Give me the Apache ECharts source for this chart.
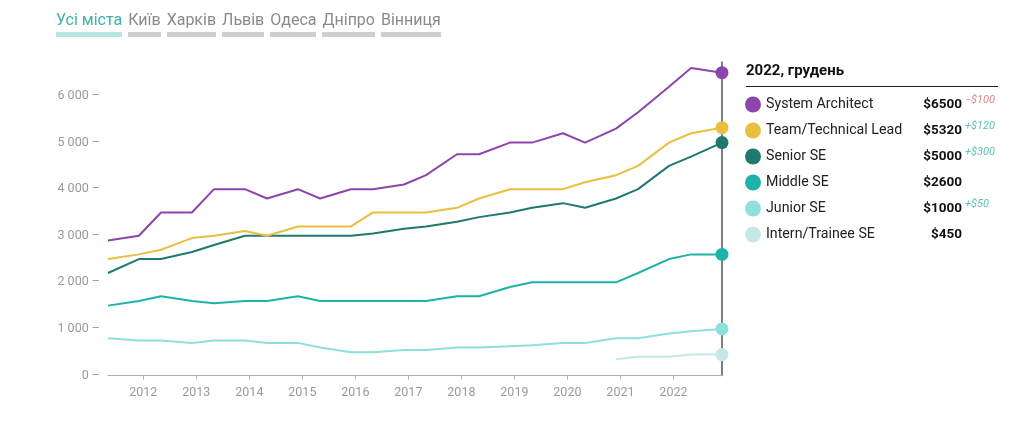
<!DOCTYPE html>
<html>
<head>
<meta charset="utf-8">
<script src="https://cdn.jsdelivr.net/npm/echarts@6/dist/echarts.min.js"></script>
<style>
  html, body { margin: 0; padding: 0; background: #fff; }
  #wrap { position: relative; width: 1024px; height: 435px; }
  #chart { position: absolute; left: 0; top: 0; width: 1024px; height: 435px; }
  #tabs { position: absolute; left: 56px; top: 10px; font-family: Roboto, sans-serif; font-size: 16px; z-index: 2; white-space: nowrap; }
  #tabs span { display: inline-block; color: #8a8a8a; border-bottom: 5px solid #cfcfcf; line-height: 20px; padding-bottom: 2px; margin-right: 6px; }
  #tabs span.active { color: #3cb3aa; border-bottom-color: #b5e6e2; }
</style>
</head>
<body>
<div id="wrap">
  <div id="chart"></div>
  <div id="tabs"></div>
</div>
<script>
// ---- data ----
var cityTabs = ['Усі міста', 'Київ', 'Харків', 'Львів', 'Одеса', 'Дніпро', 'Вінниця'];
var periods = ['2011-05','2011-12','2012-05','2012-12','2013-05','2013-12','2014-05','2014-12',
               '2015-05','2015-12','2016-05','2016-12','2017-05','2017-12','2018-05','2018-12',
               '2019-05','2019-12','2020-05','2020-12','2021-05','2021-12','2022-05','2022-12'];
var tickYears = [2012, 2013, 2014, 2015, 2016, 2017, 2018, 2019, 2020, 2021, 2022];
var seriesNames = ['System Architect', 'Team/Technical Lead', 'Senior SE', 'Middle SE', 'Junior SE', 'Intern/Trainee SE'];
var architect = [2900,3000,3500,3500,4000,4000,3800,4000,3800,4000,4000,4100,4300,4750,4750,5000,5000,5200,5000,5300,5650,6200,6600,6500];
var lead      = [2500,2600,2700,2950,3000,3100,3000,3200,3200,3200,3500,3500,3500,3600,3800,4000,4000,4000,4150,4300,4500,5000,5200,5320];
var senior    = [2200,2500,2500,2650,2800,3000,3000,3000,3000,3000,3050,3150,3200,3300,3400,3500,3600,3700,3600,3800,4000,4500,4700,5000];
var middle    = [1500,1600,1700,1600,1550,1600,1600,1700,1600,1600,1600,1600,1600,1700,1700,1900,2000,2000,2000,2000,2200,2500,2600,2600];
var junior    = [800,750,750,700,750,750,700,700,600,500,500,550,550,600,600,630,650,700,700,800,800,900,950,1000];
var intern    = [null,null,null,null,null,null,null,null,null,null,null,null,null,null,null,null,null,null,null,350,400,400,450,450];
var legendTitle = '2022, грудень';

// ---- styles ----
var colors = ['#8e44ad', '#e8bf3f', '#1f7a6d', '#1db3a8', '#8fe0da', '#c4e8e6'];

document.getElementById('tabs').innerHTML = cityTabs.map(function (t, i) {
  return '<span' + (i === 0 ? ' class="active"' : '') + '>' + t + '</span>';
}).join('');

// period 'YYYY-MM' -> fractional year (start of month)
function toYear(p) {
  var parts = p.split('-');
  return +parts[0] + (+parts[1] - 1) / 12;
}
var xs = periods.map(toYear);
var allData = [architect, lead, senior, middle, junior, intern];
var n = periods.length;

function fmtThousands(v) {
  return String(v).replace(/\B(?=(\d{3})+(?!\d))/g, ' ');
}

var DELTA_FONT = 'italic 11px Roboto';
var DELTA_BOX = 38;
var measureCtx = document.createElement('canvas').getContext('2d');
function textW(t, font) { measureCtx.font = font; return measureCtx.measureText(t).width; }

var legendInfo = {};
allData.forEach(function (arr, i) {
  var last = arr[n - 1], prev = arr[n - 2];
  var d = last - prev;
  var dText = d > 0 ? '+$' + d : (d < 0 ? '−$' + (-d) : '');
  legendInfo[seriesNames[i]] = { value: last, delta: d, dText: dText };
});

var series = allData.map(function (arr, i) {
  return {
    name: seriesNames[i],
    type: 'line',
    data: arr.map(function (v, k) { return [xs[k], v]; }),
    connectNulls: false,
    showSymbol: true,
    showAllSymbol: true,
    symbol: 'circle',
    symbolSize: function (val, params) { return params.dataIndex === n - 1 ? 13 : 0; },
    lineStyle: { color: colors[i], width: 2 },
    itemStyle: { color: colors[i], borderWidth: 0 },
    emphasis: { disabled: true },
    z: 10 - i
  };
});

function rs(o) { var r = { fontFamily: 'Roboto, sans-serif' }; for (var k in o) r[k] = o[k]; return r; }

var rich = {
  n: rs({ width: 148, fontSize: 14.2, color: '#222', lineHeight: 16 }),
  v: rs({ width: 48, align: 'right', fontSize: 13.5, fontWeight: 'bold', color: '#111', lineHeight: 16 }),
  dz: rs({ width: DELTA_BOX, align: 'right', fontSize: 11, padding: [0, 0, 8, 0] })
};
seriesNames.forEach(function (nm, i) {
  var info = legendInfo[nm];
  if (!info.dText) return;
  var w = textW(info.dText, DELTA_FONT);
  rich['d' + i] = rs({
    align: 'right', fontSize: 11, fontStyle: 'italic',
    color: info.delta < 0 ? '#d98a84' : '#5fc1b8',
    padding: [0, Math.max(0, DELTA_BOX - 3 - w), 8, 3]
  });
  info.key = 'd' + i;
});

var chart = echarts.init(document.getElementById('chart'));
chart.setOption({
  animation: false,
  textStyle: { fontFamily: 'Roboto, sans-serif' },
  grid: { left: 108, right: 302, top: 62, bottom: 59.5, containLabel: false },
  xAxis: {
    type: 'value',
    min: xs[0],
    max: xs[n - 1],
    axisLine: { show: true, lineStyle: { color: '#b0b0b0', width: 1 } },
    axisTick: { show: true, customValues: tickYears, length: 4, lineStyle: { color: '#b0b0b0' } },
    axisLabel: {
      customValues: tickYears,
      color: '#9a9a9a', fontSize: 12.5, margin: 11,
      formatter: function (v) { return String(Math.round(v)); }
    },
    splitLine: { show: false }
  },
  yAxis: [{
    type: 'value',
    min: 0, max: 6730, interval: 1000,
    axisLine: { show: false },
    axisTick: { show: false },
    splitLine: { show: false },
    axisLabel: {
      color: '#9a9a9a', fontSize: 12.5, margin: 8,
      formatter: function (v) { return v % 1000 === 0 ? fmtThousands(v) + ' –' : ''; }
    }
  }, {
    type: 'value',
    position: 'right',
    min: 0, max: 6730,
    axisLine: { show: true, lineStyle: { color: '#555', width: 1.5 } },
    axisTick: { show: false },
    axisLabel: { show: false },
    splitLine: { show: false }
  }],
  legend: {
    orient: 'vertical',
    left: 740, top: 90,
    itemWidth: 16, itemHeight: 16, itemGap: 8.5,
    icon: 'circle',
    selectedMode: false,
    data: seriesNames.map(function (nm, i) { return { name: nm, itemStyle: { color: colors[i] } }; }),
    formatter: function (name) {
      var info = legendInfo[name];
      var dStr = info.key ? '{' + info.key + '|' + info.dText + '}' : '{dz| }';
      return '{n|' + name + '}{v|$' + info.value + '}' + dStr;
    },
    textStyle: { rich: rich }
  },
  graphic: [
    { type: 'text', left: 746, top: 64, style: { text: legendTitle, fontSize: 15, fontWeight: 'bold', fill: '#111', fontFamily: 'Roboto, sans-serif' } },
    { type: 'line', shape: { x1: 746, y1: 86.5, x2: 998, y2: 86.5 }, style: { stroke: '#222', lineWidth: 1 } }
  ],
  series: series
});
</script>
</body>
</html>
